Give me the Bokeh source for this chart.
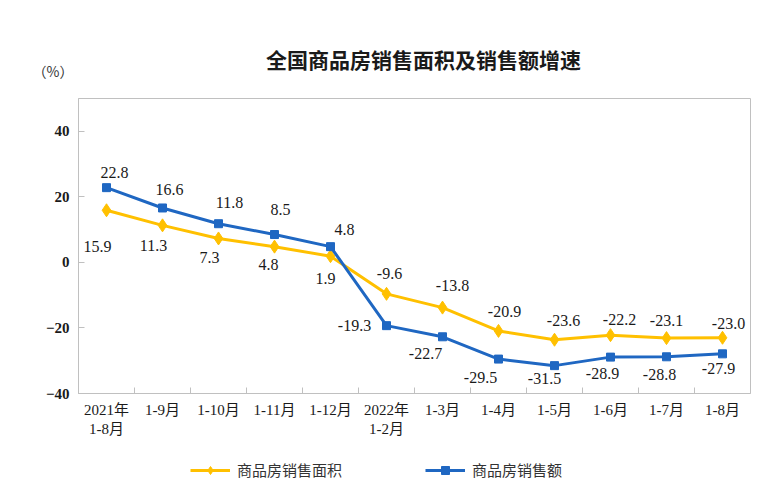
from bokeh.plotting import figure
from bokeh.layouts import column
from bokeh.models import (Range1d, FixedTicker, Legend, LegendItem, ColumnDataSource)
from bokeh.core.properties import value
from bokeh.embed import file_html
from bokeh.resources import INLINE

# ---- data ----
title_text = "全国商品房销售面积及销售额增速"
unit_text = "（%）"
categories = ["2021年\n1-8月", "1-9月", "1-10月", "1-11月", "1-12月", "2022年\n1-2月",
              "1-3月", "1-4月", "1-5月", "1-6月", "1-7月", "1-8月"]
area_growth = [15.9, 11.3, 7.3, 4.8, 1.9, -9.6, -13.8, -20.9, -23.6, -22.2, -23.1, -23.0]
sales_growth = [22.8, 16.6, 11.8, 8.5, 4.8, -19.3, -22.7, -29.5, -31.5, -28.9, -28.8, -27.9]
y_ticks = [-40, -20, 0, 20, 40]
series_names = ["商品房销售面积", "商品房销售额"]

# label placement offsets (screen px)
area_dx = [-9, -9, -9, -6, -5, 3, 10, 6, 9, 9, 0, 6]
area_dy = [36, 20, 19, 18, 22, -20, -22, -19, -19, -16, -18, -14]
sales_dx = [8, 7, 11, 6, 14, -32, -17, -18, -10, -8, -7, -4]
sales_dy = [-15, -18, -21, -25, -17, 0, 17, 18, 13, 16, 18, 15]

YEL = "#FFC000"
BLUE = "#1F67C2"
SERIF = "Liberation Serif, 'Noto Sans CJK SC'"
idx = list(range(len(categories)))

# ---------- header strip (title + unit) ----------
hdr = figure(width=760, height=90, x_range=Range1d(0, 1), y_range=Range1d(90, 0),
             output_backend="svg", toolbar_location=None,
             min_border_left=78, min_border_right=10, min_border_top=0, min_border_bottom=0)
hdr.xaxis.visible = False
hdr.xgrid.visible = False
hdr.ygrid.visible = False
hdr.outline_line_color = None
hy = hdr.yaxis[0]
hy.ticker = FixedTicker(ticks=[70])
hy.major_label_overrides = {70: unit_text}
hy.major_tick_in = 0
hy.major_tick_out = 0
hy.minor_tick_in = 0
hy.minor_tick_out = 0
hy.axis_line_color = None
hy.major_label_standoff = 5
hy.major_label_text_font = "Noto Sans CJK SC"
hy.major_label_text_font_size = "14px"
hy.major_label_text_color = "#333333"
hdr.text(x=[0.5], y=[58], text=[title_text], x_offset=9, text_align="center",
         text_baseline="middle", text_font=value("Noto Sans CJK SC"),
         text_font_style="bold", text_font_size="21px", text_color="#1a1a1a")

# ---------- main chart ----------
p = figure(width=760, height=362, x_range=Range1d(-0.5, len(categories) - 0.5),
           y_range=Range1d(-40, 50), output_backend="svg", toolbar_location=None,
           min_border_left=78, min_border_right=10, min_border_top=8,
           min_border_bottom=59)

p.outline_line_color = "#c0c0c0"
p.xgrid.visible = False
p.ygrid.visible = False

xa = p.xaxis[0]
xa.ticker = FixedTicker(ticks=idx, minor_ticks=[i + 0.5 for i in idx[:-1]])
xa.major_label_overrides = {i: c for i, c in zip(idx, categories)}
xa.major_tick_in = 0
xa.major_tick_out = 0
xa.minor_tick_in = 6
xa.minor_tick_out = 0
xa.minor_tick_line_color = "#c0c0c0"
xa.axis_line_color = "#c0c0c0"
xa.major_label_text_font = SERIF
xa.major_label_text_font_size = "15px"
xa.major_label_text_color = "#1a1a1a"
xa.major_label_standoff = 8

ya = p.yaxis[0]
ya.ticker = FixedTicker(ticks=y_ticks)
ya.major_tick_in = 6
ya.major_tick_out = 0
ya.minor_tick_in = 0
ya.minor_tick_out = 0
ya.major_tick_line_color = "#c0c0c0"
ya.axis_line_color = "#c0c0c0"
ya.major_label_text_font = SERIF
ya.major_label_text_font_style = "bold"
ya.major_label_text_font_size = "15px"
ya.major_label_text_color = "#1a1a1a"
ya.major_label_standoff = 9

src = ColumnDataSource(dict(x=idx, a=area_growth, s=sales_growth,
                            at=[f"{v:.1f}" for v in area_growth],
                            st=[f"{v:.1f}" for v in sales_growth],
                            adx=area_dx, ady=area_dy, sdx=sales_dx, sdy=sales_dy))

p.line("x", "a", source=src, line_color=YEL, line_width=3)
p.scatter("x", "a", source=src, marker="diamond", size=13, fill_color=YEL, line_color=YEL)
p.line("x", "s", source=src, line_color=BLUE, line_width=3)
p.scatter("x", "s", source=src, marker="square", size=8, fill_color=BLUE, line_color=BLUE)

p.text("x", "a", text="at", source=src, x_offset="adx", y_offset="ady",
       text_align="center", text_baseline="middle", text_font=value("Liberation Serif"),
       text_font_size="16px", text_color="#1a1a1a")
p.text("x", "s", text="st", source=src, x_offset="sdx", y_offset="sdy",
       text_align="center", text_baseline="middle", text_font=value("Liberation Serif"),
       text_font_size="16px", text_color="#1a1a1a")

# ---------- legend strip ----------
# ranges lie far away from the data, so only the legend shows in this strip
lg = figure(width=760, height=38, x_range=Range1d(1000, 1001), y_range=Range1d(1000, 1001),
            output_backend="svg", toolbar_location=None,
            min_border_left=78, min_border_right=10, min_border_top=0, min_border_bottom=0)
lg.axis.visible = False
lg.xgrid.visible = False
lg.ygrid.visible = False
lg.outline_line_color = None
l1 = lg.line("x", "a", source=src, line_color=YEL, line_width=3)
m1 = lg.scatter("x", "a", source=src, marker="diamond", size=11, fill_color=YEL, line_color=YEL)
l2 = lg.line("x", "s", source=src, line_color=BLUE, line_width=3)
m2 = lg.scatter("x", "s", source=src, marker="square", size=8, fill_color=BLUE, line_color=BLUE)

legend = Legend(items=[LegendItem(label=series_names[0], renderers=[l1, m1]),
                       LegendItem(label=series_names[1], renderers=[l2, m2])],
                orientation="horizontal", location=(112, 10), border_line_color=None,
                background_fill_alpha=0, spacing=83, glyph_width=40, label_standoff=7,
                label_text_font="Noto Sans CJK SC", label_text_font_size="15px",
                label_text_color="#333333", margin=0, padding=4)
lg.add_layout(legend, "center")

layout = column(hdr, p, lg, spacing=0)
open("out.html", "w").write(file_html(layout, INLINE))
